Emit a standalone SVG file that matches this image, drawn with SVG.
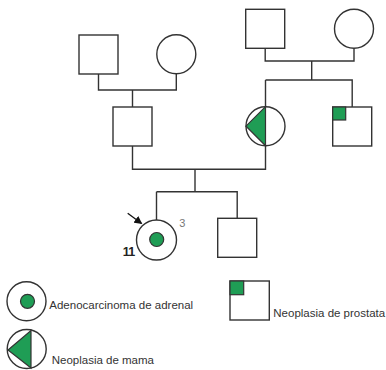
<svg xmlns="http://www.w3.org/2000/svg" width="386" height="370" viewBox="0 0 386 370">
<style>
.sym{fill:#fff;stroke:#333;stroke-width:1.4}
.aff{fill:#1f9d55;stroke:#333;stroke-width:1.2}
.ln{fill:none;stroke:#333;stroke-width:1.4}
.lbl{font-family:"Liberation Sans",Arial,sans-serif;font-size:11.5px;fill:#333}
</style>
<defs>
<marker id="ah" markerWidth="8" markerHeight="8" refX="7" refY="4" orient="auto" markerUnits="userSpaceOnUse">
<path d="M0,0 L8,4 L0,8 Z" fill="#111"/>
</marker>
</defs>
<rect width="386" height="370" fill="#fff"/>
<g id="connectors">
<path class="ln" d="M98.5,74 V90 H176.3 V74 M132.5,90 V107"/>
<path class="ln" d="M265.2,48.3 V61 H354 V48.3 M311.7,61 V80 M265.5,80 H352.2 V107 M265.5,80 V107"/>
<path class="ln" d="M132.5,146 V169.3 H265.5 V145.7 M195,169.3 V191.7 M156.5,191.7 H237.2 V218.3 M156.5,191.7 V220"/>
</g>
<g id="gf-left"><rect class="sym" x="79" y="35" width="39" height="39"/></g>
<g id="gm-left"><circle class="sym" cx="176.3" cy="54.3" r="19.5"/></g>
<g id="gf-right"><rect class="sym" x="245.7" y="9.3" width="39" height="39"/></g>
<g id="gm-right"><circle class="sym" cx="354" cy="28.7" r="19.5"/></g>
<g id="father"><rect class="sym" x="113" y="107" width="39" height="39"/></g>
<g id="mother">
<circle class="sym" cx="265.5" cy="126.2" r="19.5"/>
<path class="aff" d="M246,126.2 L265.5,106.7 L265.5,145.7 Z"/>
</g>
<g id="uncle">
<rect class="sym" x="332.7" y="107" width="39" height="39"/>
<rect class="aff" x="332.7" y="107" width="13" height="13"/>
</g>
<g id="proband">
<circle class="sym" cx="156.5" cy="240" r="20"/>
<circle class="aff" cx="156.7" cy="239.5" r="7"/>
<line x1="127.7" y1="213.3" x2="141.5" y2="223.5" stroke="#111" stroke-width="1.3" marker-end="url(#ah)"/>
<text x="179.3" y="226.7" font-family="Liberation Sans,Arial,sans-serif" font-size="11" fill="#777">3</text>
<text x="122.8" y="256" font-family="Liberation Sans,Arial,sans-serif" font-size="12.5" font-weight="bold" fill="#222" letter-spacing="-0.9">11</text>
</g>
<g id="brother"><rect class="sym" x="217.7" y="218.3" width="39" height="39"/></g>
<g id="legend-adrenal">
<circle class="sym" cx="26.5" cy="301.3" r="19.5"/>
<circle class="aff" cx="27.5" cy="301.3" r="7"/>
<text class="lbl" x="49.3" y="309">Adenocarcinoma de adrenal</text>
</g>
<g id="legend-prostata">
<rect class="sym" x="230" y="281" width="39.3" height="39"/>
<rect class="aff" x="230" y="281" width="13.7" height="13.7"/>
<text class="lbl" x="273.3" y="316.7">Neoplasia de prostata</text>
</g>
<g id="legend-mama">
<circle class="sym" cx="26.7" cy="349" r="19.5"/>
<path class="aff" d="M8,350 L31,330.5 L31,368 Z"/>
<text class="lbl" x="51.7" y="364.3">Neoplasia de mama</text>
</g>
</svg>
